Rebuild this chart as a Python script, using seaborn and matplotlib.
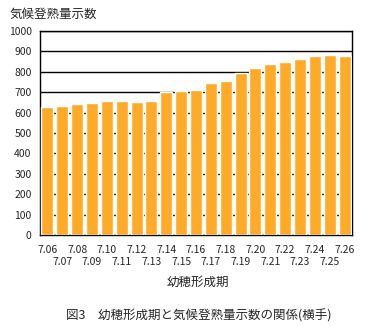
import matplotlib
matplotlib.use("Agg")
import matplotlib.pyplot as plt
import seaborn as sns
import pandas as pd

dates = ["7.06", "7.07", "7.08", "7.09", "7.10", "7.11", "7.12", "7.13", "7.14", "7.15",
         "7.16", "7.17", "7.18", "7.19", "7.20", "7.21", "7.22", "7.23", "7.24", "7.25", "7.26"]
values = [628, 634, 640, 645, 659, 659, 654, 659, 702, 707,
          712, 747, 757, 792, 817, 837, 847, 862, 877, 882, 877]
yticks = [0, 100, 200, 300, 400, 500, 600, 700, 800, 900, 1000]

sns.set_theme(style="white")
plt.rcParams['font.family'] = ['Noto Sans CJK JP', 'DejaVu Sans']

fig = plt.figure(figsize=(3.69, 3.26), dpi=100)
ax = fig.add_axes([40/369, 1-235/326, 312/369, 204/326])

df = pd.DataFrame({"date": dates, "value": values})
sns.barplot(data=df, x="date", y="value", color="#FFAA28", saturation=1, width=0.8, ax=ax, zorder=3)

ax.set_ylim(0, 1000)
ax.set_yticks(yticks)
ax.set_yticklabels([str(v) for v in yticks], fontsize=7.5)
ax.yaxis.grid(True, color="black", linewidth=1.0, zorder=0)
ax.set_axisbelow(True)
ax.tick_params(axis="y", length=0, pad=6)
ax.set_xlim(-0.5, len(dates) - 0.5)

even = [i for i in range(len(dates)) if i % 2 == 0]
odd = [i for i in range(len(dates)) if i % 2 == 1]
ax.set_xticks(even)
ax.set_xticklabels([dates[i] for i in even], fontsize=7.5)
ax.set_xticks(odd, minor=True)
ax.set_xticklabels([dates[i] for i in odd], minor=True, fontsize=7.5)
ax.tick_params(axis="x", which="major", length=0, pad=7.5)
ax.tick_params(axis="x", which="minor", length=0, pad=16)

for s in ax.spines.values():
    s.set_color("black")
    s.set_linewidth(1.0)
ax.set_xlabel("")
ax.set_ylabel("")

fig.text(10/369, 1-14/326, "気候登熟量示数", fontsize=9, ha="left", va="center")
fig.text(198/369, 1-282/326, "幼穂形成期", fontsize=9, ha="center", va="center")
fig.text(199/369, 1-316/326, "図3　幼穂形成期と気候登熟量示数の関係(横手)", fontsize=9, ha="center", va="center")

fig.savefig("out.png", dpi=100)
